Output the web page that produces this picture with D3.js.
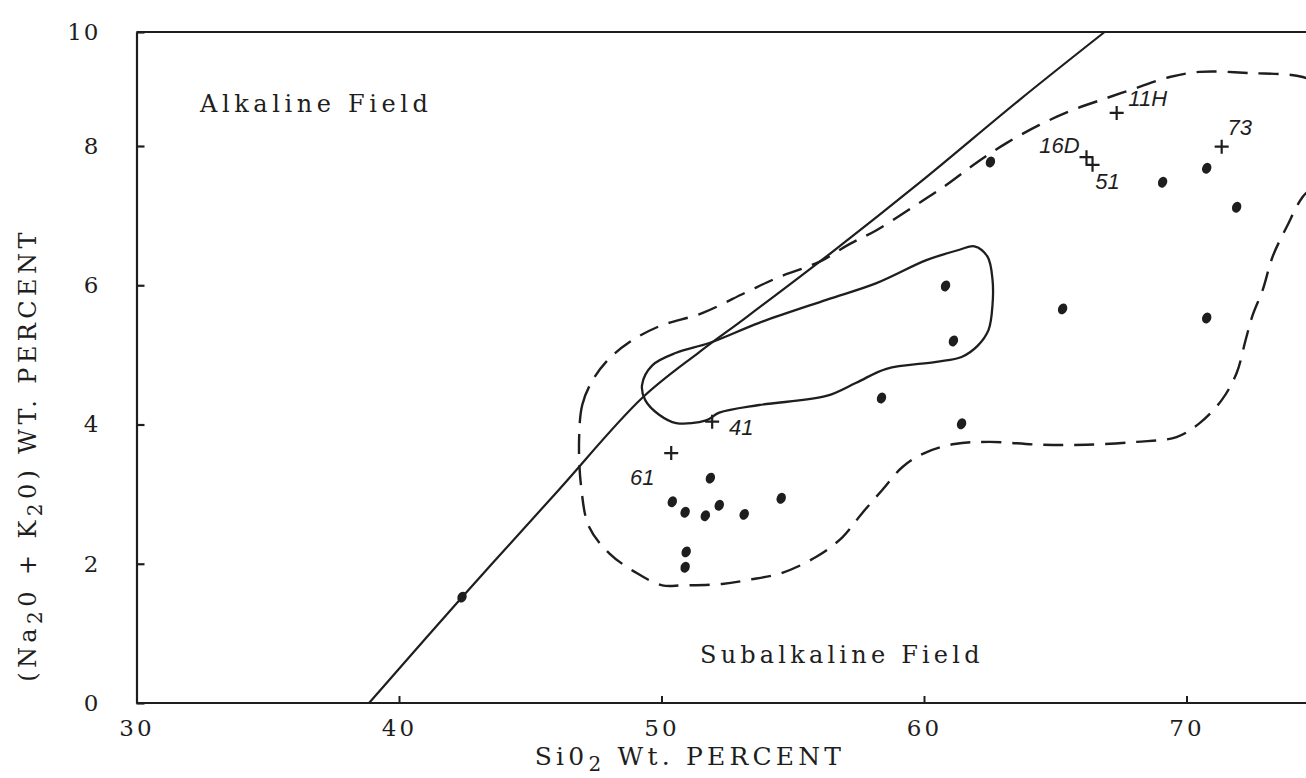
<!DOCTYPE html>
<html>
<head>
<meta charset="utf-8">
<script src="https://cdn.jsdelivr.net/npm/d3@7"></script>
<style>
body { margin:0; background:#fff; }
svg { display:block; }
.lab { font-family:"DejaVu Serif", serif; fill:#1e1e1e; }
.hand { font-family:"Liberation Sans", sans-serif; font-style:italic; fill:#1e1e1e; }
</style>
</head>
<body>
<svg id="chart" width="1306" height="778"></svg>
<script>
// tick values
var siTicks  = [30, 40, 50, 60, 70]
var alkTicks = [0, 2, 4, 6, 8, 10]

// alkaline / subalkaline dividing line
var dividerSi  = [38.86, 42.40, 45.99, 49.26, 51.44, 53.23, 56.51, 59.82, 63.64, 66.88]
var dividerAlk = [0.00, 1.52, 3.02, 4.38, 5.04, 5.54, 6.48, 7.47, 8.81, 10.0]

// analysed samples (dots)
var dotSi  = [42.40, 51.86, 50.41, 50.90, 51.67, 52.20, 53.15, 54.56, 50.94, 50.90,
              58.38, 61.43, 60.82, 61.12, 65.28, 70.77, 62.53, 69.09, 70.77, 71.91]
var dotAlk = [1.52, 3.23, 2.89, 2.74, 2.69, 2.84, 2.71, 2.94, 2.17, 1.95,
              4.38, 4.01, 5.99, 5.20, 5.66, 5.53, 7.77, 7.48, 7.68, 7.12]

// numbered samples (crosses)
var crossName = ["61", "41", "16D", "51", "11H", "73"]
var crossSi   = [50.37, 51.93, 66.19, 66.42, 67.34, 71.34]
var crossAlk  = [3.59, 4.04, 7.84, 7.73, 8.58, 7.99]

// solid field outline
var innerSi  = [49.26, 49.65, 50.56, 51.82, 53.72, 56.28, 58.19, 60.09, 61.35, 61.92, 62.42, 62.61, 62.61,
                62.46, 62.04, 61.43, 60.47, 58.57, 57.42, 56.28, 53.72, 52.20, 51.70, 50.56, 49.91, 49.38]
var innerAlk = [4.57, 4.85, 5.03, 5.17, 5.46, 5.79, 6.03, 6.36, 6.51, 6.56, 6.41, 6.08, 5.72,
                5.36, 5.13, 4.97, 4.90, 4.80, 4.60, 4.41, 4.28, 4.17, 4.06, 4.02, 4.14, 4.35]

// dashed field outline
var outerSi  = [46.86, 46.98, 47.32, 47.89, 48.77, 49.91, 51.55, 53.23, 54.49, 55.44, 56.09, 57.16, 58.19,
                59.56, 60.85, 62.00, 63.14, 64.40, 65.66, 66.95, 68.10, 69.36, 70.50, 72.41, 74.43, 75.46,
                75.84, 75.26, 74.43, 73.82, 73.28, 72.90, 72.52, 72.25, 71.91, 71.34, 70.50, 69.62, 68.10,
                66.19, 64.40, 62.49, 61.16, 60.02, 59.18, 58.41, 57.65, 56.89, 55.90, 54.60, 53.34, 52.31,
                50.79, 50.03, 49.04, 48.01, 47.24, 46.94]
var outerAlk = [3.78, 4.28, 4.60, 4.90, 5.18, 5.41, 5.60, 5.90, 6.12, 6.25, 6.35, 6.59, 6.79,
                7.12, 7.44, 7.76, 8.05, 8.37, 8.63, 8.84, 9.02, 9.21, 9.30, 9.28, 9.21, 8.98,
                8.09, 7.58, 7.27, 6.84, 6.41, 5.93, 5.57, 5.21, 4.74, 4.35, 4.02, 3.82, 3.75,
                3.71, 3.71, 3.75, 3.72, 3.59, 3.39, 3.06, 2.73, 2.38, 2.10, 1.87, 1.77, 1.71,
                1.69, 1.69, 1.87, 2.15, 2.53, 3.10]

const W = 1306
const svg = d3.select('#chart')

const x = d3.scaleLinear().domain([30, 70]).range([136.5, 1186.5])
// the original sheet squeezes the 8-10 interval, hence the piecewise scale
const y = d3.scaleLinear().domain([0, 8, 10]).range([703, 146, 32])

const ink = '#1e1e1e'

function pts(a, b) { return a.map((v, i) => [v, b[i]]) }

// frame
svg.append('line')
  .attr('x1', x(30)).attr('x2', W).attr('y1', y(0)).attr('y2', y(0))
  .attr('stroke', ink).attr('stroke-width', 2.2)
svg.append('line')
  .attr('x1', x(30)).attr('x2', W).attr('y1', y(10)).attr('y2', y(10))
  .attr('stroke', ink).attr('stroke-width', 2.2)

// axes
const xAxis = svg.append('g')
  .attr('transform', `translate(0,${y(0)})`)
  .call(d3.axisBottom(x).tickValues(siTicks).tickSize(-7).tickSizeOuter(0).tickPadding(17))
xAxis.select('.domain').remove()
xAxis.selectAll('line').attr('stroke', ink).attr('stroke-width', 2)
xAxis.selectAll('text').attr('class', 'lab').style('font-size', '23px').style('letter-spacing', '3px')

const yAxis = svg.append('g')
  .attr('transform', `translate(${x(30)},0)`)
  .call(d3.axisLeft(y).tickValues(alkTicks).tickSize(-8).tickSizeOuter(0).tickPadding(36))
yAxis.select('.domain').attr('stroke', ink).attr('stroke-width', 2.2)
yAxis.selectAll('line').attr('stroke', ink).attr('stroke-width', 2.2)
yAxis.selectAll('text').attr('class', 'lab').style('font-size', '23px').style('letter-spacing', '2px')

// dividing line
svg.append('path')
  .datum(pts(dividerSi, dividerAlk))
  .attr('d', d3.line().x(d => x(d[0])).y(d => y(d[1])).curve(d3.curveCatmullRom))
  .attr('fill', 'none').attr('stroke', ink).attr('stroke-width', 2.2)

// outlines
const loop = d3.line().x(d => x(d[0])).y(d => y(d[1])).curve(d3.curveCatmullRomClosed)
svg.append('path')
  .datum(pts(outerSi, outerAlk))
  .attr('d', loop)
  .attr('fill', 'none').attr('stroke', ink).attr('stroke-width', 2.4)
  .attr('stroke-dasharray', '20,11')
svg.append('path')
  .datum(pts(innerSi, innerAlk))
  .attr('d', loop)
  .attr('fill', 'none').attr('stroke', ink).attr('stroke-width', 2.3)

// dots
svg.append('g').selectAll('ellipse')
  .data(pts(dotSi, dotAlk))
  .enter()
  .append('ellipse')
  .attr('cx', d => x(d[0]))
  .attr('cy', d => y(d[1]))
  .attr('rx', 4.5).attr('ry', 5.6)
  .attr('transform', d => `rotate(25,${x(d[0])},${y(d[1])})`)
  .attr('fill', ink)

// crosses + handwritten numbers
var labelOffset = { '61': [-29, 24], '41': [29, 6], '16D': [-27, -12], '51': [15, 17], '11H': [31, -15], '73': [18, -19] }
const crosses = svg.append('g').selectAll('g')
  .data(crossName.map((n, i) => ({ name: n, si: crossSi[i], alk: crossAlk[i] })))
  .enter()
  .append('g')
  .attr('transform', d => `translate(${x(d.si)},${y(d.alk)})`)
crosses.append('path')
  .attr('d', 'M-7,0H7M0,-7V7')
  .attr('stroke', ink).attr('stroke-width', 2.2)
crosses.append('text')
  .attr('class', 'hand')
  .attr('x', d => labelOffset[d.name][0])
  .attr('y', d => labelOffset[d.name][1])
  .attr('dy', '0.35em')
  .attr('text-anchor', 'middle')
  .style('font-size', '22px')
  .text(d => d.name)

// field names
svg.append('text').attr('class', 'lab')
  .attr('x', 200).attr('y', 112)
  .style('font-size', '24px').style('letter-spacing', '4.6px')
  .text('Alkaline Field')
svg.append('text').attr('class', 'lab')
  .attr('x', 700).attr('y', 663)
  .style('font-size', '24px').style('letter-spacing', '4.2px')
  .text('Subalkaline Field')

// axis titles
const xt = svg.append('text').attr('class', 'lab')
  .attr('x', 690).attr('y', 765)
  .attr('text-anchor', 'middle')
  .style('font-size', '25px').style('letter-spacing', '4.2px')
xt.append('tspan').text('Si0')
xt.append('tspan').attr('dy', 6).style('font-size', '20px').text('2')
xt.append('tspan').attr('dy', -6).text(' Wt. PERCENT')

const yt = svg.append('text').attr('class', 'lab')
  .attr('transform', 'translate(36,455) rotate(-90)')
  .attr('text-anchor', 'middle')
  .style('font-size', '24px').style('letter-spacing', '4.4px')
yt.append('tspan').text('(Na')
yt.append('tspan').attr('dy', 6).style('font-size', '20px').text('2')
yt.append('tspan').attr('dy', -6).text('0 + K')
yt.append('tspan').attr('dy', 6).style('font-size', '20px').text('2')
yt.append('tspan').attr('dy', -6).text('0) WT. PERCENT')
</script>
</body>
</html>
